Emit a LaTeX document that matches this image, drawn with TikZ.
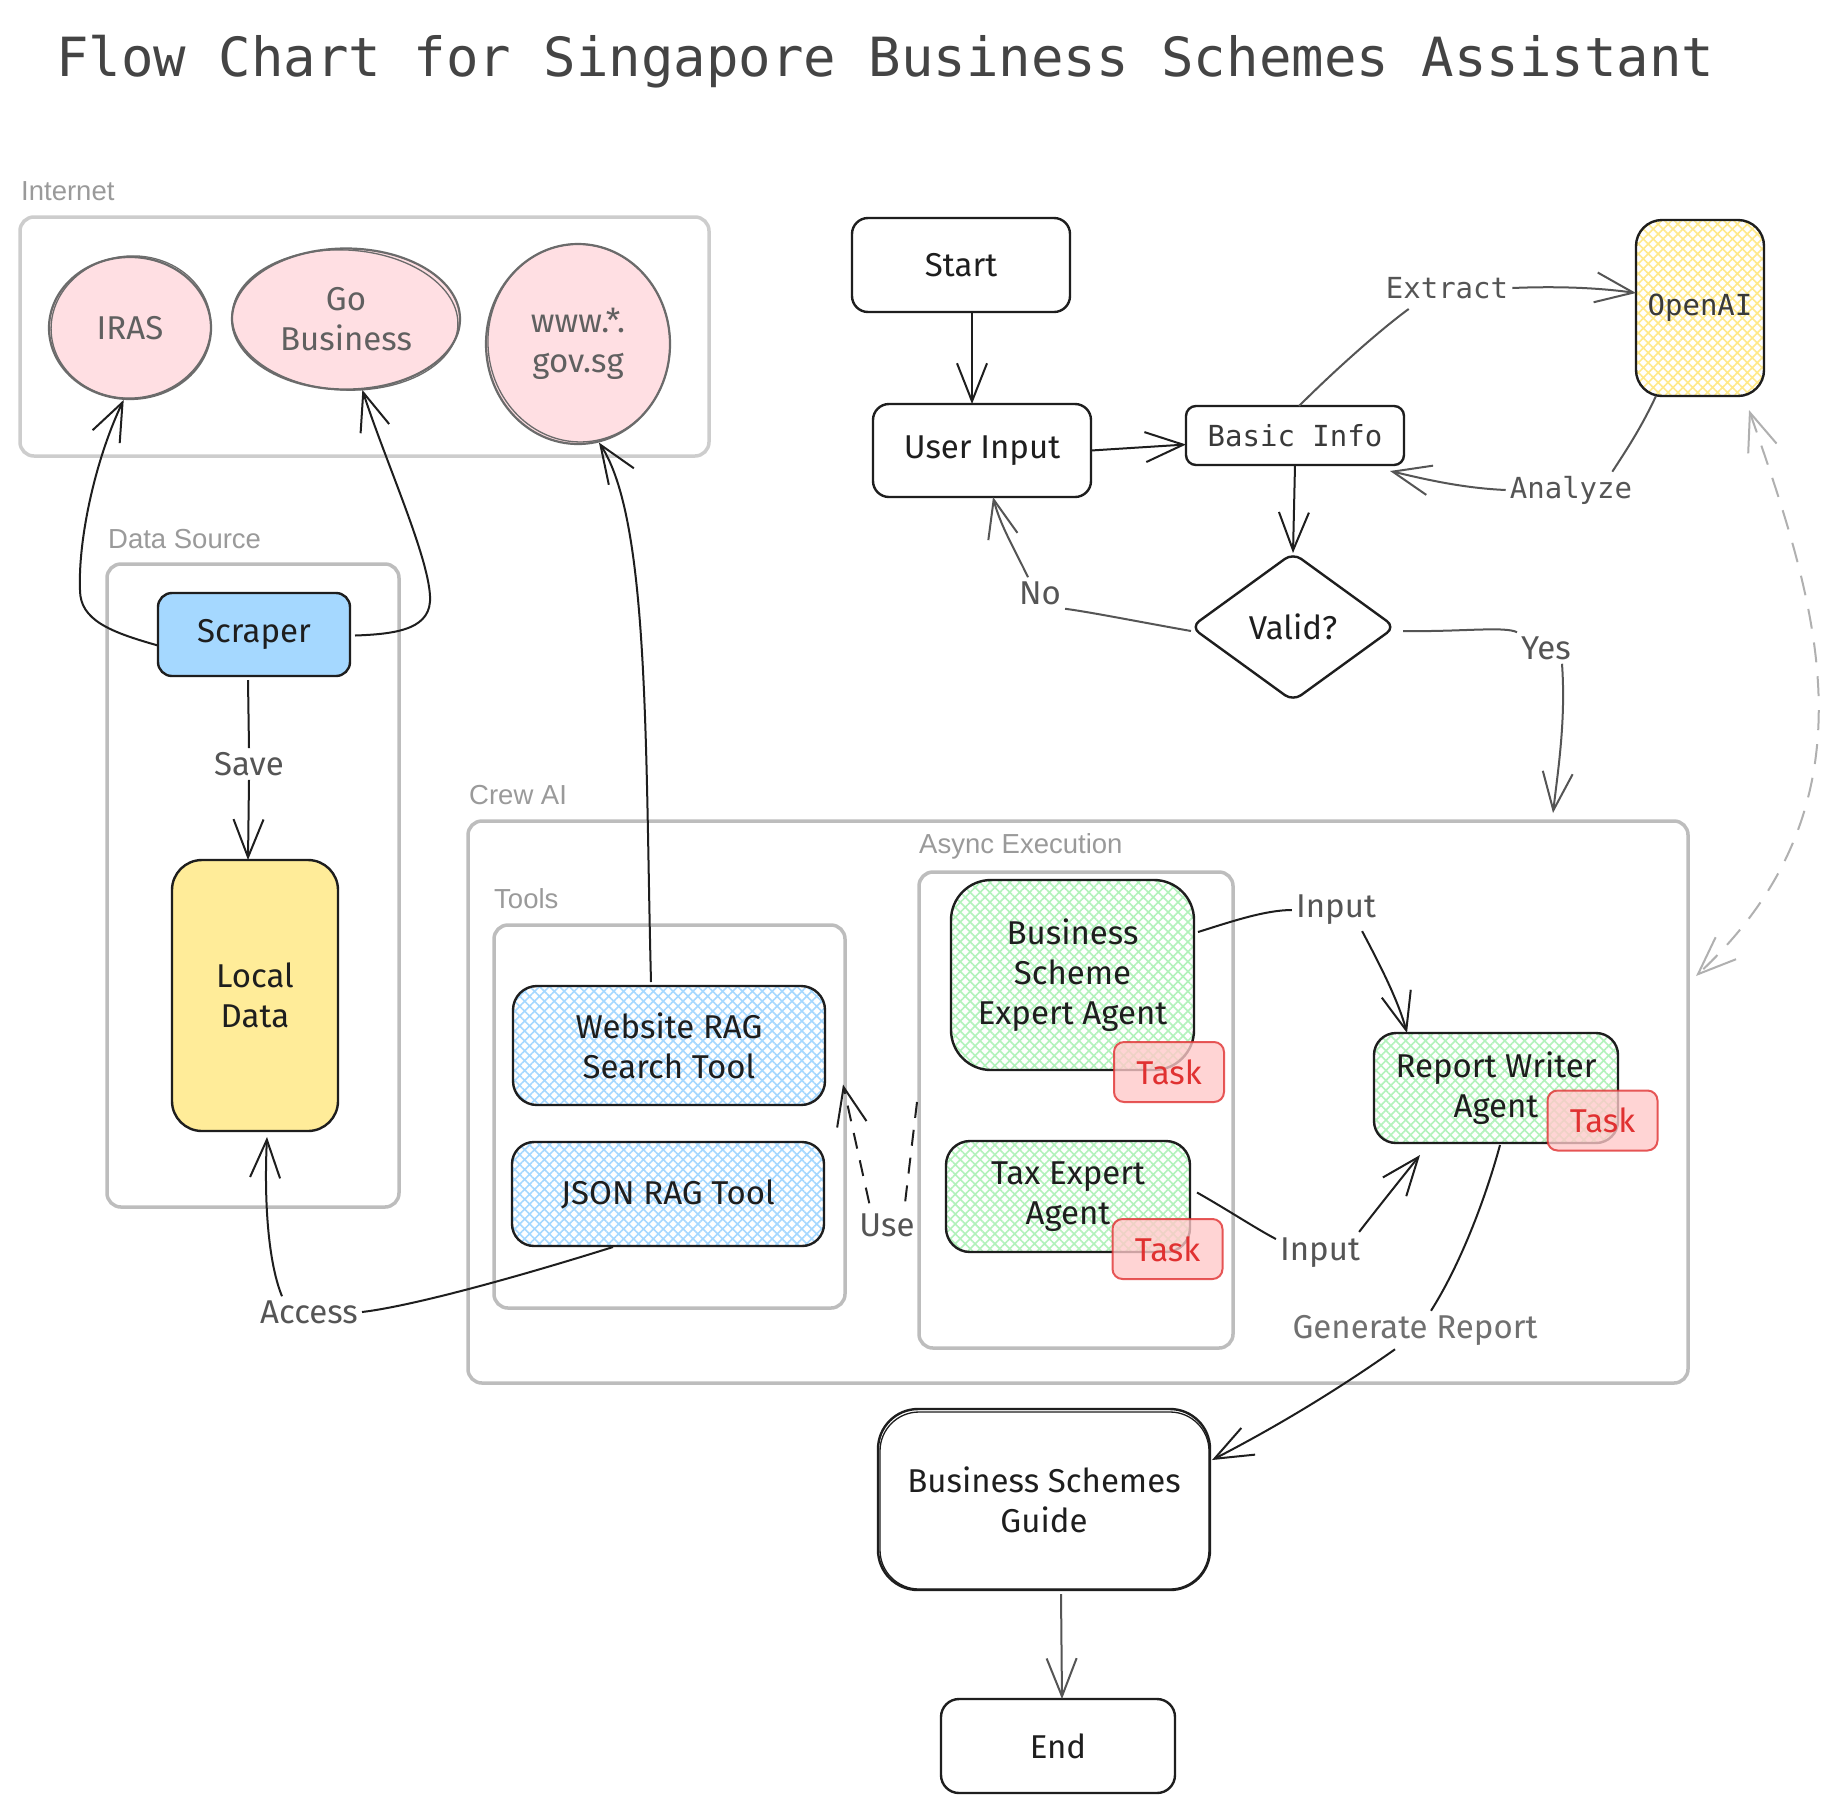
\documentclass[tikz,border=0pt]{standalone}
\usepackage{fontspec}
\newfontfamily\handfam{Fira Sans}
\newfontfamily\monofam{DejaVu Sans Mono}
\newfontfamily\grpfam{Liberation Sans}
\usetikzlibrary{arrows.meta,shapes.geometric,patterns.meta,calc}
\definecolor{ink}{HTML}{1E1E1E}
\definecolor{linkgray}{HTML}{555555}
\definecolor{labgray}{HTML}{555555}
\definecolor{genlab}{HTML}{707070}
\definecolor{grpgray}{HTML}{BDBDBD}
\definecolor{grpgraylight}{HTML}{CDCDCD}
\definecolor{grplabel}{HTML}{9A9A9A}
\definecolor{pinkfill}{HTML}{FFDFE3}
\definecolor{ellstroke}{HTML}{6B6B6B}
\definecolor{elltext}{HTML}{606060}
\definecolor{bluefill}{HTML}{A5D8FF}
\definecolor{yellowfill}{HTML}{FFEC99}
\definecolor{hatchblue}{HTML}{A5D8FF}
\definecolor{hatchgreen}{HTML}{B2F2BB}
\definecolor{hatchyellow}{HTML}{FFE98A}
\definecolor{taskfill}{HTML}{FFC9C9}
\definecolor{taskred}{HTML}{E03131}
\definecolor{dashgray}{HTML}{B0B0B0}
\definecolor{titlegray}{HTML}{444444}
\definecolor{monotext}{HTML}{3A3A3A}
\newcommand\fHand{\handfam\fontsize{33}{40}\selectfont}
\newcommand\fMono{\monofam\fontsize{29}{36}\selectfont}
\newcommand\fGrp{\grpfam\fontsize{27.5}{32}\selectfont}
\newcommand\fTitle{\monofam\fontsize{54}{60}\selectfont}
\begin{document}
\begin{tikzpicture}[x=1pt,y=-1pt,
  box/.style={draw=ink, line width=2.4pt, rounded corners=16pt, align=center, font=\fHand, text=ink, inner sep=0pt, outer sep=0pt},
  hatchfill/.style={preaction={fill=white}, preaction={pattern={Hatch[angle=45,distance=7pt,line width=1.6pt]}, pattern color=#1}},
  grp/.style={draw=grpgray, line width=3.5pt, rounded corners=14pt, inner sep=0pt, outer sep=0pt},
  grplbl/.style={font=\fGrp, text=grplabel, inner sep=0pt, anchor=west},
  ell/.style={ellipse, draw=ellstroke, line width=2.2pt, fill=pinkfill, align=center, font=\fHand, text=elltext, inner sep=0pt},
  sketch/.style={draw=ellstroke, line width=1.3pt},
  taskbox/.style={draw=taskred, draw opacity=0.8, fill=taskfill, fill opacity=0.78, text opacity=1, text=taskred, line width=2pt, rounded corners=10pt, minimum width=110pt, minimum height=60pt, font=\fHand, inner sep=0pt},
  lbl/.style={font=\fHand, text=labgray, inner sep=4pt},
  mlbl/.style={font=\fMono, text=labgray, inner sep=4pt},
  link/.style={draw=ink, line width=2pt},
  glink/.style={draw=linkgray, line width=2pt},
  arr/.style={-{Straight Barb[length=38pt,width=30pt]}},
  dlink/.style={draw=dashgray, line width=2pt, dash pattern=on 20pt off 14pt}
]
\useasboundingbox (0,0) rectangle (1838,1813);
\fill[white] (0,0) rectangle (1838,1813);

% title
\node[anchor=base west, font=\fTitle, text=titlegray, inner sep=0pt] (title) at (56,76) {Flow Chart for Singapore Business Schemes Assistant};

% groups
\node[grp, draw=grpgraylight, minimum width=689pt, minimum height=239pt] (internet) at (364.5,336.5) {};
\node[grplbl] (lblinternet) at (21,191) {Internet};
\node[grp, minimum width=292pt, minimum height=643pt] (datasrc) at (253,885.5) {};
\node[grplbl] (lbldatasrc) at (108,539) {Data Source};
\node[grp, minimum width=1220pt, minimum height=562pt] (crewai) at (1078,1102) {};
\node[grplbl] (lblcrewai) at (469,795) {Crew AI};
\node[grp, minimum width=351pt, minimum height=383pt] (tools) at (669.5,1116.5) {};
\node[grplbl] (lbltools) at (494,899) {Tools};
\node[grp, minimum width=314pt, minimum height=476pt] (async) at (1076,1110) {};
\node[grplbl] (lblasync) at (919,846) {Async Execution};

% internet sources
\node[ell, minimum width=162pt, minimum height=142pt] (iras) at (130,328) {IRAS};
\draw[sketch] ($(iras.center)+(1,-1)$) ellipse [x radius=80, y radius=71, rotate=6];
\node[ell, minimum width=228pt, minimum height=141pt] (gobiz) at (346,319) {Go\\Business};
\draw[sketch] ($(gobiz.center)+(-1,1)$) ellipse [x radius=113, y radius=70, rotate=-3];
\node[ell, minimum width=184pt, minimum height=200pt] (www) at (578,344) {www.*.\\gov.sg};
\draw[sketch] ($(www.center)+(1,-1)$) ellipse [x radius=91, y radius=99, rotate=5];

% data source
\node[box, fill=bluefill, rounded corners=14pt, minimum width=192pt, minimum height=83pt] (scraper) at (254,634.5) {Scraper};
\node[box, fill=yellowfill, rounded corners=30pt, minimum width=166pt, minimum height=271pt] (localdata) at (255,995.5) {Local\\Data};

% tools
\node[box, hatchfill=hatchblue, rounded corners=24pt, minimum width=312pt, minimum height=119pt] (website) at (669,1045.5) {Website RAG\\Search Tool};
\node[box, hatchfill=hatchblue, rounded corners=22pt, minimum width=312pt, minimum height=104pt] (json) at (668,1194) {JSON RAG Tool};

% agents
\node[box, hatchfill=hatchgreen, rounded corners=40pt, minimum width=243pt, minimum height=190pt] (bsea) at (1072.5,975) {Business\\Scheme\\Expert Agent};
\node[taskbox] (task1) at (1169,1072) {Task};
\node[box, hatchfill=hatchgreen, rounded corners=24pt, minimum width=244pt, minimum height=111pt] (tea) at (1068,1196.5) {Tax Expert\\Agent};
\node[taskbox] (task2) at (1167.5,1249) {Task};
\node[box, hatchfill=hatchgreen, rounded corners=22pt, minimum width=244pt, minimum height=110pt] (rwa) at (1496,1088) {Report Writer\\Agent};
\node[taskbox] (task3) at (1602.5,1120.5) {Task};

% main flow
\node[box, minimum width=218pt, minimum height=94pt] (start) at (961,265) {Start};
\node[box, minimum width=218pt, minimum height=93pt] (userin) at (982,450.5) {User Input};
\node[box, rounded corners=10pt, font=\fMono, text=monotext, minimum width=218pt, minimum height=59pt] (basic) at (1295,435.5) {Basic Info};
\node[box, hatchfill=hatchyellow, rounded corners=26pt, font=\fMono, text=monotext, minimum width=128pt, minimum height=176pt] (openai) at (1700,308) {OpenAI};
\node[box, diamond, rounded corners=10pt, minimum width=204pt, minimum height=148pt] (valid) at (1293,627) {Valid?};
\node[box, rounded corners=40pt, minimum width=332pt, minimum height=181pt] (guide) at (1044,1499.5) {Business Schemes\\Guide};
\draw[draw=ink, line width=1.3pt, rounded corners=39pt] ($(guide.south west)+(2,-1)$) rectangle ($(guide.north east)+(-1,3)$);
\node[box, rounded corners=18pt, minimum width=234pt, minimum height=94pt] (endn) at (1058,1746) {End};

% connector labels
\node[lbl] (savelbl) at (249,764) {Save};
\node[lbl] (nolbl) at (1040,593) {No};
\node[lbl] (yeslbl) at (1546,648) {Yes};
\node[mlbl] (extractlbl) at (1447,288) {Extract};
\node[mlbl] (analyzelbl) at (1571,490) {Analyze};
\node[lbl] (input1) at (1336,910) {Input};
\node[lbl] (input2) at (1320,1253) {Input};
\node[lbl, text=genlab] (genlbl) at (1415,1330) {Generate Report};
\node[lbl] (accesslbl) at (309,1312) {Access};
\node[lbl] (uselbl) at (887,1225) {Use};

% connectors: main flow
\draw[link, arr] ($(start.south)+(11,0)$) -- ($(userin.north)+(-10,0)$);
\draw[link, arr] (userin.east) -- ($(basic.west)+(0,9)$);
\draw[link, arr] (basic.south) -- (valid.north);
\draw[glink] ($(valid.west)+(0,4)$) .. controls (1140,622) and (1090,612) .. (nolbl.south east);
\draw[glink, arr] ($(nolbl.north)+(-12,0)$) .. controls (1015,550) and (1000,525) .. ($(userin.south)+(11,0)$);
\draw[glink] ($(valid.east)+(8,4)$) .. controls (1460,632) and (1505,626) .. (yeslbl.north west);
\draw[glink, arr] ($(yeslbl.south)+(16,0)$) .. controls (1566,720) and (1558,770) .. ($(crewai.north east)+(-135,-8)$);
\draw[glink] ($(basic.north)+(4,0)$) .. controls (1335,370) and (1380,330) .. ($(extractlbl.south west)+(27,6)$);
\draw[glink, arr] (extractlbl.east) .. controls (1560,286) and (1600,288) .. ($(openai.west)+(0,-15)$);
\draw[glink] ($(openai.south west)+(20,0)$) .. controls (1640,430) and (1625,452) .. ($(analyzelbl.north east)+(-24,0)$);
\draw[glink, arr] (analyzelbl.west) .. controls (1460,488) and (1420,478) .. ($(basic.south east)+(-14,6)$);
\draw[dlink, {Straight Barb[length=38pt,width=30pt]}-{Straight Barb[length=38pt,width=30pt]}] ($(openai.south east)+(-15,14)$) .. controls (1815,600) and (1885,800) .. ($(crewai.east)+(8,-126)$);

% connectors: agents
\draw[link] ($(bsea.east)+(4,-43)$) .. controls (1230,922) and (1265,910) .. (input1.west);
\draw[link, arr] ($(input1.south east)+(-18,2)$) .. controls (1380,965) and (1398,1000) .. ($(rwa.north west)+(33,0)$);
\draw[link] ($(tea.east)+(7,-4)$) .. controls (1228,1210) and (1255,1228) .. ($(input2.west)+(0,-14)$);
\draw[link, arr] ($(input2.north east)+(-5,-2)$) .. controls (1380,1205) and (1400,1180) .. ($(rwa.south west)+(46,12)$);
\draw[link] ($(rwa.south)+(4,2)$) .. controls (1485,1200) and (1460,1265) .. ($(genlbl.north)+(16,0)$);
\draw[link, arr] ($(genlbl.south)+(-20,0)$) .. controls (1330,1395) and (1270,1430) .. ($(guide.north east)+(2,51)$);
\draw[link, draw=linkgray, arr] ($(guide.south)+(17,4)$) -- ($(endn.north)+(4,0)$);

% connectors: data
\draw[link, arr] ($(scraper.west)+(0,11)$) .. controls (110,632) and (80,620) .. (80,590) .. controls (78,540) and (95,460) .. (iras.-95);
\draw[link, arr] ($(scraper.east)+(5,1)$) .. controls (400,634) and (432,628) .. (430,596) .. controls (428,555) and (385,460) .. (gobiz.-77);
\draw[link] ($(scraper.south)+(-6,4)$) -- (savelbl.north);
\draw[link, arr] (savelbl.south) -- ($(localdata.north)+(-7,0)$);
\draw[link, arr] ($(website.north)+(-18,-4)$) .. controls (645,750) and (650,520) .. (www.-78);
\draw[link] ($(json.south)+(-55,1)$) .. controls (540,1270) and (420,1305) .. (accesslbl.east);
\draw[link, arr] ($(accesslbl.north)+(-27,0)$) .. controls (268,1262) and (264,1200) .. ($(localdata.south)+(12,6)$);
\draw[link, dash pattern=on 16pt off 12pt] ($(async.west)+(-2,-8)$) -- ($(uselbl.north east)+(-14,-4)$);
\draw[link, dash pattern=on 16pt off 12pt, arr] ($(uselbl.north west)+(14,-6)$) -- ($(tools.east)+(-2,-32)$);
\end{tikzpicture}
\end{document}
